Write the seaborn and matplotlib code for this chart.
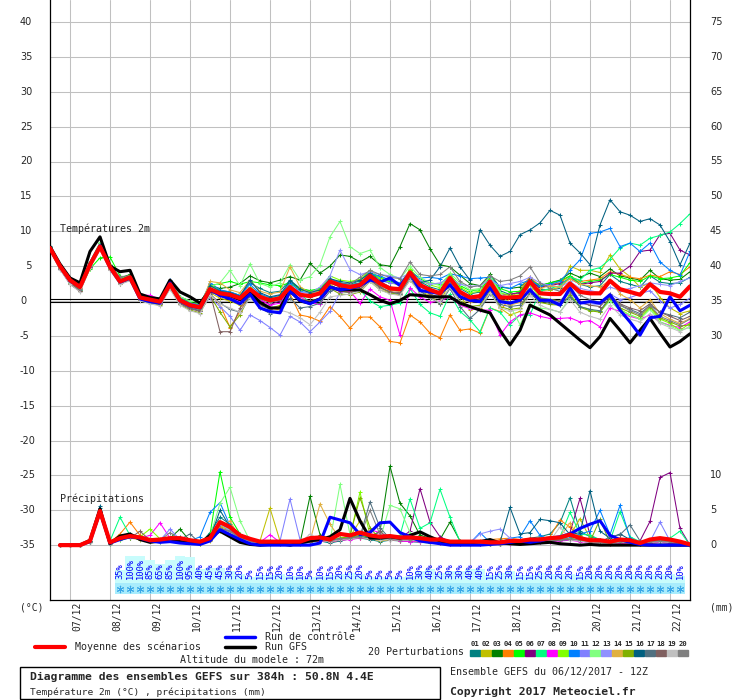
import matplotlib
matplotlib.use("Agg")
import matplotlib.pyplot as plt
from matplotlib import transforms
from matplotlib.lines import Line2D
from matplotlib.patches import Rectangle
import pandas as pd
import seaborn as sns

# Time axis (hours after 06/12/2017 12Z, 6h steps up to 384h)
HOURS = list(range(0, 385, 6))
DAY_TICKS = list(range(12, 373, 24))
DAY_LABELS = ["07/12", "08/12", "09/12", "10/12", "11/12", "12/12", "13/12", "14/12",
              "15/12", "16/12", "17/12", "18/12", "19/12", "20/12", "21/12", "22/12"]

# Temperature 2m (degC)
mean_t = [7.6, 5.0, 3.0, 2.0, 5.2, 7.8, 4.9, 2.8, 3.4, 0.5, 0.2, -0.1, 2.4, 0.1, -0.6, -0.9,
          1.7, 1.1, 0.9, 0.4, 1.7, 0.6, 0.1, 0.4, 2.0, 0.9, 0.7, 1.1, 2.8, 2.3, 2.0, 2.3,
          3.6, 2.5, 1.8, 1.7, 4.1, 2.3, 1.6, 1.1, 3.3, 1.3, 0.5, 0.7, 2.8, 0.5, 0.5, 0.6,
          2.8, 1.1, 1.0, 1.0, 2.5, 1.3, 1.1, 1.1, 2.9, 1.7, 1.3, 0.9, 2.4, 1.3, 1.1, 0.6, 2.1]
gfs_t = [7.8, 5.3, 3.3, 2.6, 7.1, 9.2, 5.0, 4.2, 4.4, 1.0, 0.5, 0.3, 3.0, 1.3, 0.6, -0.3,
         1.5, 1.0, 0.8, 0.2, 1.2, -0.2, -1.0, -1.0, 1.5, 0.0, -0.3, 0.3, 2.0, 1.6, 1.6, 1.6,
         0.9, 0.1, -0.4, 0.1, 0.9, 0.8, 0.6, 0.6, 0.6, -0.3, -0.8, -1.3, -1.7, -4.2, -6.3, -4.2,
         -0.6, -1.3, -2.0, -3.2, -4.4, -5.6, -6.7, -5.1, -2.5, -4.2, -6.0, -4.2, -2.5, -4.6, -6.6, -5.8, -4.7]
ctrl_t = [7.6, 5.0, 2.9, 2.0, 5.3, 7.9, 4.8, 2.7, 3.3, 0.3, -0.1, -0.3, 2.6, 0.0, -0.7, -1.0,
          1.6, 0.8, 0.3, -0.4, 1.0, -1.0, -1.5, -1.7, 1.4, 0.1, -0.4, 0.3, 2.0, 1.6, 1.8, 2.2,
          3.0, 2.7, 3.3, 2.2, 4.0, 1.5, 1.3, 1.1, 2.3, 0.6, 0.1, -0.1, 1.9, -0.1, -0.3, 0.1,
          1.6, 0.1, 0.1, -0.6, 1.9, -0.3, -0.1, -0.3, 0.9, -1.3, -3.0, -4.9, -2.4, -2.2, 0.6, -1.4, -0.6]

t01 = [7.9, 5.2, 3.1, 2.2, 5.4, 8.0, 5.1, 3.0, 3.6, 0.6, 0.1, -0.3, 2.7, 0.3, -0.5, -0.8,
       2.4, 1.5, 1.3, 0.8, 2.6, 1.8, 1.2, 1.4, 3.0, 1.8, 1.4, 1.6, 3.2, 2.6, 2.4, 2.9,
       4.2, 3.0, 2.6, 2.4, 4.4, 2.8, 2.0, 1.6, 3.6, 1.8, 1.0, 1.3, 3.4, 1.5, 0.9, 1.2,
       3.3, 1.7, 1.6, 1.8, 3.5, 2.4, 2.0, 2.2, 3.8, 2.8, 2.4, 2.0, 3.6, 2.7, 2.5, 2.6, 3.4]
t02 = [7.4, 4.8, 2.8, 1.7, 4.9, 7.5, 4.6, 2.6, 3.1, 0.3, -0.1, -0.4, 2.0, -0.2, -0.9, -1.3,
       1.2, 0.4, 0.0, -0.6, 1.0, -0.4, -1.1, -0.6, 1.5, 0.3, 0.0, 0.4, 2.6, 2.0, 1.8, 2.2,
       3.1, 1.9, 1.2, 0.8, 3.5, 1.4, 0.8, -0.4, 3.0, 0.8, -1.3, -1.0, 1.5, -1.0, -2.0, -1.5,
       2.6, 1.5, 1.6, 2.0, 5.0, 4.4, 4.4, 4.1, 6.6, 4.6, 3.5, 2.0, 2.6, 0.5, -1.0, -1.8, -1.4]
t03 = [7.8, 5.1, 3.2, 2.3, 5.6, 8.3, 5.2, 3.3, 3.8, 0.8, 0.4, 0.2, 2.8, 0.6, 0.0, -0.3,
       2.2, 1.8, 2.0, 2.5, 3.6, 2.9, 2.6, 3.0, 3.5, 3.0, 5.4, 4.0, 5.0, 6.6, 6.4, 5.6,
       6.4, 5.2, 5.0, 7.8, 11.1, 10.2, 7.5, 5.2, 4.9, 3.7, 2.5, 2.2, 3.8, 2.0, 1.8, 2.0,
       3.2, 2.2, 2.6, 3.0, 4.0, 3.4, 4.0, 3.5, 4.6, 3.6, 3.3, 3.0, 4.4, 3.2, 3.0, 3.1, 4.2]
t04 = [7.5, 4.9, 2.9, 1.9, 5.0, 7.6, 4.7, 2.7, 3.3, 0.4, 0.0, -0.2, 2.2, -0.1, -0.8, -1.0,
       1.0, -0.5, -3.8, -1.5, 1.0, -0.5, -1.0, -1.3, 1.0, -2.0, -2.3, -2.9, -0.8, -2.2, -3.9, -2.3,
       -2.3, -3.7, -5.8, -6.0, -2.0, -3.0, -4.6, -5.3, -2.0, -4.2, -4.0, -4.6, -1.0, -1.5, 0.5, 1.5,
       3.5, 2.0, 2.4, 2.6, 3.6, 2.8, 3.0, 3.2, 4.2, 3.8, 3.4, 3.2, 3.7, 3.5, 4.2, 3.8, 4.9]
t05 = [7.3, 4.7, 2.6, 1.6, 4.6, 6.2, 6.3, 3.6, 3.0, 0.9, 0.6, 0.3, 2.6, 0.5, -0.2, -0.5,
       2.2, 2.5, 2.8, 2.4, 2.8, 2.6, 2.3, 2.2, 2.6, 1.8, 1.5, 1.8, 2.9, 2.5, 2.3, 2.6,
       3.9, 3.4, 2.8, 2.5, 4.4, 3.1, 2.6, 2.4, 3.7, 2.2, 1.5, 1.6, 3.3, 1.8, 1.3, 1.4,
       3.0, 2.2, 2.6, 2.9, 3.6, 2.5, 2.8, 3.0, 3.8, 3.4, 3.0, 2.8, 3.6, 3.2, 3.3, 3.6, 5.5]
t06 = [7.2, 4.6, 2.4, 1.4, 4.9, 7.7, 4.8, 2.7, 3.2, 0.4, 0.1, -0.3, 2.3, 0.0, -0.7, -1.1,
       1.5, 0.7, 0.4, -0.2, 1.6, 0.1, -0.5, 0.0, 1.6, 0.8, 0.6, 1.0, 2.6, 2.0, 1.8, 2.0,
       3.2, 2.2, 1.6, 1.4, 3.8, 2.1, 1.4, 0.9, 2.9, 1.0, 0.3, 0.5, 2.5, 0.8, 1.0, 1.2,
       2.8, 2.0, 2.2, 2.5, 3.2, 2.4, 2.6, 2.8, 4.0, 4.0, 5.0, 7.1, 7.3, 9.5, 9.7, 7.3, 6.6]
t07 = [7.7, 5.0, 2.9, 1.9, 5.3, 7.9, 5.0, 2.9, 3.5, 0.6, 0.3, 0.0, 2.5, 0.2, -0.4, -0.7,
       1.9, 1.2, 0.9, 0.3, 1.8, 0.4, -0.2, 0.2, 2.3, 1.0, -0.2, -0.4, 2.4, 1.4, 1.2, 1.6,
       0.0, -0.8, -0.6, -0.3, 1.8, -0.5, -1.7, -2.2, 1.0, -1.5, -2.7, -4.4, -1.0, -1.6, -3.4, -2.0,
       -2.0, 1.4, 1.8, 2.2, 3.4, 3.0, 4.4, 4.8, 6.0, 7.6, 8.3, 8.0, 9.0, 9.4, 9.9, 11.1, 12.5]
t08 = [7.6, 5.0, 2.9, 1.8, 5.3, 8.2, 5.2, 2.9, 3.5, 0.9, 0.8, 0.3, 2.6, 0.3, -0.3, -0.6,
       1.8, 0.9, 0.5, 0.0, 1.3, 0.2, -0.6, -0.3, 1.7, 0.6, -0.2, -0.5, 2.0, 1.3, 1.4, -0.3,
       1.7, 0.6, 0.1, -4.9, 1.9, 0.6, -0.2, 0.0, 0.6, -0.6, -1.1, -1.3, -1.3, -4.9, -3.0, -2.0,
       -1.7, -2.2, -2.5, -2.5, -2.4, -3.0, -2.8, -3.7, -1.0, -1.5, -2.2, -2.6, -2.0, -3.0, -3.5, -3.8, -3.0]
t09 = [7.5, 4.9, 2.8, 1.8, 5.1, 7.8, 4.8, 2.6, 3.2, 0.4, 0.1, -0.2, 2.3, -0.1, -0.8, -1.2,
       2.5, 1.4, 1.0, 0.6, 2.0, 0.9, 0.4, 0.7, 2.5, 1.6, 1.3, 1.7, 3.6, 3.0, 2.8, 3.1,
       4.4, 3.3, 2.6, 2.3, 4.6, 3.0, 2.3, 1.9, 3.8, 2.0, 1.2, 1.4, 3.1, 1.2, 0.8, 0.9,
       2.3, 0.5, 0.2, 0.0, 1.0, -0.8, -1.2, -1.6, 0.4, -1.2, -2.0, -2.5, -1.0, -2.6, -3.2, -4.2, -3.2]
t10 = [7.7, 5.1, 3.0, 2.1, 5.3, 7.9, 5.0, 2.9, 3.5, 0.7, 0.3, 0.0, 3.0, 0.4, -0.3, -0.6,
       2.6, 1.6, 1.3, 0.8, 2.4, 1.0, 0.5, 0.8, 2.6, 1.4, 1.1, 1.5, 3.2, 2.6, 2.3, 2.6,
       3.9, 3.6, 3.0, 2.6, 4.2, 3.3, 3.4, 3.2, 3.9, 3.6, 3.2, 3.3, 3.4, 2.1, 1.8, 2.5,
       3.0, 2.1, 2.4, 2.8, 4.4, 5.9, 9.7, 9.9, 10.4, 7.8, 8.3, 7.1, 8.3, 5.6, 4.4, 3.7, 7.1]
t11 = [7.5, 4.8, 2.7, 1.7, 5.0, 7.7, 4.8, 2.7, 3.3, 0.4, 0.0, -0.4, 2.1, -0.3, -1.0, -1.4,
       0.5, -0.8, -2.2, -4.2, -2.0, -2.8, -3.8, -4.9, -2.2, -3.0, -4.4, -3.0, -1.5, 1.2, 1.8, 2.1,
       3.8, 2.9, 2.6, 2.4, 3.5, 2.0, 1.2, 0.8, 2.4, 0.8, 0.2, 0.0, 2.0, -0.2, -0.4, -0.1,
       1.8, 0.2, 0.0, -0.2, 1.2, -0.3, -0.6, -0.5, 1.0, 0.2, 0.5, 1.0, 1.5, 0.0, -1.0, -0.5, 0.4]
t12 = [7.8, 5.2, 3.2, 2.3, 5.6, 8.4, 5.3, 3.1, 3.7, 0.8, 0.5, 0.2, 2.9, 0.6, 0.0, -0.2,
       2.0, 2.6, 4.4, 2.2, 5.3, 2.5, 2.0, 2.6, 5.2, 3.0, 3.5, 5.2, 9.2, 11.4, 7.8, 6.8,
       7.3, 4.8, 3.8, 3.2, 5.0, 3.4, 2.6, 2.2, 4.0, 2.6, 1.6, 1.8, 3.6, 1.3, -0.6, -3.4,
       -0.5, -1.0, -1.2, -1.6, 0.5, -0.8, -1.4, -1.5, 0.0, -1.4, -2.0, -2.6, -1.2, -3.0, -3.6, -4.2, -3.8]
t13 = [7.6, 5.0, 2.9, 1.9, 5.2, 7.9, 5.0, 2.8, 3.4, 0.6, 0.2, -0.1, 2.6, 0.2, -0.5, -0.9,
       1.9, 1.0, 0.7, 0.2, 1.6, 0.5, 0.0, 0.4, 2.2, 1.3, 1.1, 2.0, 3.6, 7.3, 4.5, 3.8,
       4.2, 3.8, 3.6, 3.3, 4.0, 3.0, 2.4, 2.6, 3.3, 2.4, 2.1, 2.2, 3.0, 2.2, 2.5, 2.8,
       3.4, 2.6, 2.2, 2.0, 2.8, 1.8, 1.5, 1.2, 2.0, 1.5, 1.8, 2.2, 2.6, 2.4, 2.2, 2.8, 3.3]
t14 = [7.4, 4.8, 2.8, 1.8, 5.0, 7.6, 4.7, 2.8, 3.4, 0.5, 0.2, -0.1, 2.2, 0.0, -0.6, -0.9,
       2.8, 2.6, 1.6, 1.2, 3.0, 1.4, 1.0, 1.3, 4.9, 2.0, 1.2, 1.4, 2.4, 1.5, 1.2, 1.7,
       3.0, 2.2, 1.5, 1.4, 3.4, 2.2, 1.4, 0.8, 2.6, 0.6, -0.2, 0.0, 1.8, 0.0, -0.6, -0.2,
       1.6, 1.8, 2.2, 2.0, 3.2, 2.4, 2.2, 2.0, 3.0, 1.0, 0.2, -1.0, 0.2, -1.8, -2.6, -3.2, -2.5]
t15 = [7.3, 4.7, 2.5, 1.5, 4.8, 7.4, 4.6, 2.5, 3.0, 0.2, -0.3, -0.6, 1.8, -0.5, -1.3, -1.7,
       0.8, -1.6, -3.7, -2.0, 0.8, -0.6, -1.0, -0.8, 1.3, 0.2, 0.0, 0.3, 1.8, 1.0, 0.9, 1.3,
       2.8, 1.6, 1.1, 1.0, 3.0, 1.3, 0.5, -0.3, 2.0, 0.0, -0.8, -0.6, 1.4, -0.8, -1.2, -1.0,
       1.2, -0.2, -0.5, -0.6, 0.8, -0.9, -1.4, -1.6, 0.4, -1.0, -1.6, -2.2, -0.8, -2.4, -3.0, -3.6, -3.4]
t16 = [7.7, 5.1, 3.1, 2.2, 5.5, 8.1, 5.1, 3.0, 3.6, 0.6, 0.2, -0.1, 2.6, 0.3, -0.4, -0.8,
       2.2, 1.4, 1.2, 0.7, 3.0, 1.2, 0.6, 0.9, 2.9, 1.7, 1.2, 1.6, 3.2, 2.8, 2.6, 3.0,
       4.0, 2.8, 2.0, 1.8, 4.0, 2.6, 3.0, 4.9, 7.6, 4.9, 3.0, 10.2, 8.0, 6.4, 7.1, 9.5,
       10.2, 11.2, 13.0, 12.3, 8.3, 6.9, 5.2, 10.9, 14.5, 12.8, 12.3, 11.4, 11.8, 10.9, 8.5, 5.2, 8.3]
t17 = [7.4, 4.8, 2.7, 1.6, 4.9, 7.6, 4.7, 2.6, 3.1, 0.3, -0.1, -0.4, 2.0, -0.3, -1.0, -1.4,
       1.0, -0.3, -1.2, -1.6, 0.6, -1.0, -1.8, -1.4, 0.4, -1.0, -0.8, -0.3, 1.4, 1.8, 2.0, 2.4,
       3.3, 2.0, 1.3, 1.0, 3.2, 1.4, 0.5, -0.4, 1.8, -0.8, -2.5, -1.2, 1.0, -0.5, -0.8, -0.6,
       1.0, 0.0, -0.3, -0.6, 0.6, -0.8, -1.2, -1.4, 0.6, -0.6, -1.2, -1.8, -0.6, -1.6, -2.0, -2.4, -1.6]
t18 = [7.3, 4.6, 2.5, 1.4, 4.8, 7.5, 4.5, 2.4, 3.0, 0.2, -0.2, -0.5, 1.9, -0.4, -1.1, -1.5,
       1.2, -4.4, -4.4, -1.0, 0.8, -0.6, -1.2, -0.9, 1.2, 0.2, 0.0, 0.4, 2.0, 1.4, 1.2, 1.6,
       3.0, 1.9, 1.3, 1.2, 3.6, 1.7, 1.0, 0.5, 2.6, 0.6, 0.0, 0.2, 2.2, 0.2, -0.2, 0.0,
       1.6, 0.4, 0.2, 0.0, 1.4, -0.2, -0.6, -0.8, 0.8, -0.4, -1.0, -1.4, -0.4, -1.6, -2.2, -2.8, -2.2]
t19 = [7.2, 4.5, 2.4, 1.3, 4.7, 7.3, 4.4, 2.4, 2.9, 0.0, -0.4, -0.7, 1.7, -0.6, -1.4, -1.8,
       0.9, -0.4, -1.0, -1.6, 0.4, -0.9, -1.6, -1.3, -1.7, -2.4, -3.4, -1.6, 0.6, 0.8, 1.0, 1.4,
       2.8, 1.6, 1.0, 0.8, 3.0, 1.2, 0.4, -0.2, 2.0, -0.2, -1.0, -0.8, 1.2, -1.0, -1.4, -1.2,
       0.8, -0.6, -1.2, -1.6, 0.2, -1.6, -2.2, -2.6, -0.6, -2.0, -2.6, -3.0, -1.8, -3.2, -3.8, -4.4, -3.6]
t20 = [7.5, 4.9, 2.8, 1.7, 5.0, 7.7, 4.9, 3.5, 3.6, 0.6, 0.2, -0.1, 2.3, 0.0, -0.7, -1.0,
       1.6, 0.8, 0.6, 0.1, 1.5, 0.3, -0.2, 0.2, 1.8, 0.8, 0.6, 1.0, 2.6, 2.4, 2.4, 3.4,
       4.4, 3.8, 3.4, 3.2, 5.6, 3.8, 3.6, 3.8, 4.9, 2.8, 2.0, 2.2, 3.6, 2.8, 3.0, 3.6,
       4.9, 2.6, 1.8, 1.4, 2.4, 0.8, 0.2, -0.2, 1.0, -0.6, -1.4, -2.0, -0.6, -2.2, -2.8, -3.4, -2.6]

# 6h precipitation (mm), from +6h to +384h
mean_p = [0, 0, 0, 0.6, 4.9, 0.4, 1.0, 1.3, 1.1, 0.7, 0.8, 1.0, 1.0, 0.7, 0.5, 1.0,
          3.3, 2.6, 1.4, 0.9, 0.5, 0.5, 0.5, 0.5, 0.5, 1.0, 1.1, 0.8, 1.6, 1.4, 1.8, 1.4,
          1.2, 1.3, 1.1, 1.1, 1.0, 0.8, 0.8, 0.5, 0.5, 0.5, 0.5, 0.4, 0.4, 0.6, 0.6, 0.8,
          0.8, 1.0, 1.1, 1.5, 1.0, 0.7, 0.7, 0.5, 0.8, 0.7, 0.3, 0.8, 1.0, 0.8, 0.5, 0.1]
gfs_p = [0, 0, 0, 0.7, 5.2, 0.2, 1.3, 1.6, 0.8, 0.4, 0.6, 0.9, 0.5, 0.3, 0.2, 1.4,
         2.0, 1.2, 0.4, 0.1, 0.0, 0.1, 0.2, 0.0, 0.3, 0.6, 0.8, 1.2, 2.2, 6.7, 3.5, 1.0,
         1.0, 1.2, 1.0, 1.4, 1.9, 1.2, 0.6, 0.2, 0.2, 0.3, 0.5, 0.8, 0.3, 0.2, 0.1, 0.2,
         0.3, 0.4, 0.2, 0.1, 0.0, 0.1, 0.0, 0.0, 0.0, 0.0, 0.0, 0.0, 0.0, 0.0, 0.0, 0.0]
ctrl_p = [0, 0, 0, 0.5, 4.8, 0.3, 0.8, 1.2, 1.0, 0.6, 0.4, 0.5, 0.3, 0.2, 0.1, 0.6,
          2.2, 1.5, 0.8, 0.2, 0.0, 0.0, 0.0, 0.0, 0.0, 0.0, 0.3, 4.0, 3.6, 3.2, 1.5, 1.8,
          3.2, 3.3, 1.8, 1.2, 0.6, 0.4, 0.2, 0.0, 0.0, 0.0, 0.0, 0.1, 0.2, 0.4, 0.6, 0.4,
          0.6, 1.0, 1.2, 1.6, 2.4, 3.0, 3.5, 1.4, 0.8, 0.4, 0.1, 0.0, 0.0, 0.0, 0.0, 0.0]

p01 = [0, 0, 0, 0.4, 5.3, 0.2, 1.4, 1.6, 1.2, 0.6, 0.5, 0.8, 1.1, 0.4, 0.2, 1.8,
       4.0, 3.0, 1.2, 0.4, 0.2, 0.1, 0.2, 0.1, 0.2, 0.4, 0.6, 0.3, 0.6, 0.9, 1.0, 0.8,
       0.5, 0.7, 0.6, 0.5, 0.4, 0.3, 0.3, 0.2, 0.1, 0.2, 0.2, 0.1, 0.1, 0.3, 0.6, 1.0,
       1.2, 1.6, 3.2, 6.8, 2.0, 1.2, 0.8, 0.6, 0.9, 0.5, 0.2, 0.3, 0.4, 0.3, 0.2, 0.0]
p02 = [0, 0, 0, 0.6, 4.4, 0.4, 0.9, 1.0, 0.8, 1.0, 0.6, 0.7, 0.6, 0.4, 0.2, 0.6,
       2.0, 1.6, 0.8, 0.5, 0.6, 5.3, 0.6, 0.2, 0.2, 0.5, 0.6, 0.5, 1.0, 1.2, 3.5, 1.0,
       0.6, 0.8, 0.6, 0.7, 0.5, 0.4, 0.3, 0.2, 0.2, 0.2, 0.3, 0.2, 0.2, 0.3, 0.3, 0.5,
       0.5, 0.6, 0.9, 1.4, 3.8, 1.0, 0.4, 0.2, 0.3, 0.2, 0.1, 0.3, 0.4, 0.4, 0.2, 0.0]
p03 = [0, 0, 0, 0.5, 4.7, 0.3, 1.1, 1.3, 1.2, 0.9, 0.8, 1.0, 2.3, 0.6, 0.3, 0.7,
       3.0, 2.4, 1.4, 0.8, 0.4, 0.6, 0.5, 0.4, 0.3, 7.0, 1.5, 0.8, 0.8, 1.1, 1.3, 1.2,
       2.0, 11.3, 6.0, 4.2, 1.4, 1.0, 0.8, 3.3, 0.6, 0.4, 0.3, 0.2, 0.2, 0.3, 0.3, 0.5,
       0.6, 0.7, 0.8, 0.9, 0.7, 0.5, 0.6, 0.4, 0.5, 0.4, 0.3, 0.6, 0.8, 0.6, 0.3, 0.0]
p04 = [0, 0, 0, 0.4, 4.5, 0.4, 1.6, 3.3, 1.4, 0.9, 0.6, 0.8, 0.7, 0.5, 0.4, 0.9,
       2.6, 2.2, 1.0, 0.5, 0.3, 0.2, 0.2, 0.2, 0.3, 0.5, 0.7, 0.5, 0.7, 0.9, 1.0, 0.9,
       0.7, 0.8, 0.7, 0.6, 0.6, 0.5, 0.4, 0.3, 0.3, 0.4, 0.6, 0.8, 0.9, 1.0, 0.8, 0.9,
       1.0, 1.2, 3.6, 2.6, 1.0, 0.8, 0.5, 0.3, 0.4, 0.3, 0.2, 0.4, 0.5, 0.4, 0.2, 0.0]
p05 = [0, 0, 0, 0.5, 4.4, 0.2, 0.8, 1.0, 0.9, 0.7, 0.8, 1.0, 0.7, 0.4, 0.3, 1.5,
       10.5, 4.0, 1.6, 0.6, 0.3, 0.2, 0.3, 0.2, 0.3, 0.6, 0.9, 0.7, 1.0, 1.2, 1.4, 1.0,
       0.9, 1.0, 0.9, 0.8, 0.7, 0.6, 0.5, 0.3, 0.2, 0.2, 0.3, 0.2, 0.2, 0.4, 0.4, 0.5,
       0.6, 0.6, 0.8, 0.9, 0.8, 0.6, 0.4, 0.3, 0.5, 0.4, 0.2, 0.4, 0.6, 0.5, 0.4, 0.0]
p06 = [0, 0, 0, 0.6, 4.8, 0.3, 1.0, 1.1, 1.0, 0.8, 0.6, 0.8, 0.7, 0.5, 0.4, 0.7,
       2.2, 1.8, 0.9, 0.5, 0.3, 0.3, 0.4, 0.2, 0.3, 0.5, 0.7, 0.6, 0.8, 0.9, 1.1, 0.9,
       0.8, 0.9, 1.0, 2.0, 8.1, 3.3, 1.2, 0.5, 0.3, 0.3, 0.2, 0.2, 0.2, 0.3, 0.4, 0.5,
       0.5, 0.7, 0.9, 1.8, 6.7, 1.5, 0.6, 0.4, 0.5, 0.5, 0.6, 3.4, 9.7, 10.4, 2.4, 0.0]
p07 = [0, 0, 0, 0.5, 4.6, 0.6, 4.0, 1.4, 1.1, 0.8, 0.7, 0.9, 0.8, 0.5, 0.3, 0.9,
       3.2, 2.6, 1.2, 0.6, 0.3, 0.3, 0.3, 0.2, 0.3, 0.6, 0.8, 0.6, 0.9, 1.0, 1.2, 1.0,
       0.8, 1.0, 1.4, 6.6, 2.4, 3.2, 8.0, 4.0, 0.5, 0.3, 0.3, 0.2, 0.2, 0.4, 0.4, 0.6,
       0.6, 0.7, 1.2, 4.7, 1.6, 1.4, 0.8, 0.6, 4.8, 1.2, 0.5, 0.6, 0.8, 1.0, 2.0, 0.0]
p08 = [0, 0, 0, 0.4, 4.5, 0.3, 0.9, 1.2, 1.0, 1.4, 3.2, 1.0, 0.8, 0.5, 0.4, 0.8,
       2.4, 1.9, 1.0, 0.6, 0.4, 1.5, 0.4, 0.2, 0.3, 0.5, 0.6, 0.5, 0.7, 0.8, 1.0, 2.2,
       1.8, 0.9, 0.6, 0.5, 0.5, 0.4, 0.3, 0.2, 0.2, 0.2, 0.2, 0.1, 0.1, 0.2, 0.3, 0.4,
       0.4, 0.5, 0.6, 0.7, 0.5, 0.4, 0.3, 0.2, 0.3, 0.2, 0.1, 0.3, 0.4, 0.3, 0.2, 0.0]
p09 = [0, 0, 0, 0.5, 4.7, 0.3, 1.0, 1.3, 1.2, 2.3, 0.9, 0.9, 0.8, 0.6, 0.3, 0.9,
       2.8, 2.2, 1.1, 0.6, 0.3, 0.3, 0.3, 0.2, 0.3, 0.6, 0.9, 0.6, 1.0, 1.2, 7.6, 1.4,
       0.9, 1.0, 0.9, 0.9, 0.8, 0.6, 0.6, 0.3, 0.3, 0.3, 0.3, 0.2, 0.2, 0.4, 0.4, 0.6,
       0.6, 0.7, 0.8, 0.9, 0.7, 0.5, 0.4, 0.3, 0.5, 0.4, 0.2, 0.5, 0.6, 0.5, 0.3, 0.0]
p10 = [0, 0, 0, 0.5, 4.9, 0.4, 1.1, 1.2, 1.0, 0.8, 0.7, 0.9, 0.9, 0.6, 1.2, 4.7,
       6.1, 2.8, 1.3, 0.7, 0.4, 0.3, 0.3, 0.2, 0.3, 0.6, 0.8, 0.6, 0.9, 1.0, 1.2, 1.0,
       0.8, 0.9, 0.8, 0.8, 0.7, 0.6, 0.5, 0.3, 0.3, 0.3, 1.8, 0.4, 0.4, 1.0, 1.2, 3.5,
       1.4, 0.8, 1.0, 1.2, 1.6, 2.0, 5.0, 1.5, 5.7, 1.0, 0.4, 0.5, 0.6, 0.5, 0.3, 0.0]
p11 = [0, 0, 0, 0.5, 4.5, 0.3, 1.0, 1.1, 1.0, 0.8, 0.7, 2.3, 0.8, 0.5, 0.3, 0.8,
       2.4, 2.0, 1.0, 0.6, 0.4, 0.5, 0.6, 6.6, 0.8, 0.5, 0.7, 0.6, 0.9, 1.0, 1.1, 1.0,
       0.8, 0.8, 0.7, 0.7, 0.6, 0.5, 0.4, 0.3, 0.3, 0.4, 0.4, 0.5, 0.4, 0.4, 0.4, 0.5,
       0.5, 0.6, 0.7, 0.8, 0.7, 0.5, 0.4, 0.3, 0.4, 0.4, 0.2, 0.5, 3.3, 0.6, 0.3, 0.0]
p12 = [0, 0, 0, 0.6, 4.6, 0.3, 1.2, 1.3, 1.1, 0.9, 0.8, 1.0, 0.9, 0.5, 0.4, 1.2,
       6.0, 8.3, 3.5, 0.6, 0.3, 0.3, 0.3, 0.2, 0.3, 0.6, 0.8, 0.6, 8.7, 1.5, 1.2, 1.0,
       0.8, 5.7, 5.2, 1.8, 0.7, 0.6, 0.5, 0.3, 0.3, 0.3, 0.3, 0.2, 0.2, 0.4, 0.4, 0.6,
       0.6, 0.7, 0.8, 0.9, 0.7, 0.5, 0.4, 0.3, 0.5, 0.4, 0.2, 0.5, 0.6, 0.5, 0.3, 0.0]
p13 = [0, 0, 0, 0.5, 4.5, 0.3, 1.0, 1.2, 0.9, 0.8, 0.7, 0.9, 0.8, 0.5, 0.3, 0.8,
       3.0, 2.1, 1.0, 0.6, 0.3, 0.3, 0.3, 0.2, 0.3, 0.6, 0.8, 0.6, 0.9, 1.0, 1.2, 1.0,
       0.8, 0.9, 0.8, 0.8, 0.7, 0.6, 0.5, 0.3, 0.3, 0.3, 1.6, 2.0, 2.3, 1.0, 0.4, 0.6,
       0.6, 0.7, 0.8, 0.9, 0.7, 0.5, 0.4, 0.3, 0.5, 0.4, 0.2, 0.5, 0.6, 0.5, 0.3, 0.0]
p14 = [0, 0, 0, 0.5, 4.6, 0.3, 1.0, 1.4, 1.0, 0.8, 0.7, 0.9, 0.8, 0.5, 0.3, 0.8,
       2.5, 3.5, 1.0, 0.6, 0.3, 0.3, 0.3, 0.2, 0.3, 0.6, 5.9, 3.0, 0.9, 1.0, 1.2, 1.0,
       0.8, 0.9, 0.8, 0.8, 0.7, 0.6, 0.5, 0.3, 0.3, 0.3, 0.3, 0.2, 0.2, 0.4, 0.4, 0.6,
       0.6, 0.7, 1.2, 3.2, 0.7, 0.5, 0.4, 0.3, 0.5, 0.4, 0.2, 0.5, 0.6, 0.5, 0.3, 0.0]
p15 = [0, 0, 0, 0.5, 4.4, 0.3, 0.9, 1.1, 0.9, 0.8, 0.7, 0.8, 0.7, 0.5, 0.3, 0.7,
       2.2, 1.8, 0.9, 0.5, 0.3, 0.3, 0.3, 0.2, 0.3, 0.5, 0.7, 0.6, 0.9, 1.4, 6.8, 2.5,
       0.8, 0.9, 0.8, 0.8, 0.7, 0.6, 0.5, 0.3, 0.3, 0.3, 0.3, 0.2, 0.2, 0.4, 0.4, 0.6,
       0.6, 0.7, 0.8, 0.9, 1.4, 0.5, 3.7, 0.3, 0.5, 0.4, 0.2, 0.5, 0.6, 0.5, 0.3, 0.0]
p16 = [0, 0, 0, 0.6, 5.6, 0.4, 1.2, 1.4, 1.1, 0.8, 0.7, 1.0, 0.9, 0.6, 0.4, 1.0,
       5.0, 2.6, 1.2, 0.6, 0.3, 0.3, 0.3, 0.2, 0.3, 0.6, 0.8, 0.6, 0.9, 1.0, 1.2, 1.0,
       0.8, 0.9, 0.8, 0.8, 0.7, 0.6, 0.5, 0.3, 0.3, 0.3, 0.3, 0.2, 0.4, 5.4, 1.6, 1.8,
       3.7, 3.5, 3.2, 1.5, 1.8, 7.8, 2.0, 1.0, 1.6, 0.8, 0.4, 0.5, 0.6, 0.5, 0.3, 0.0]
p17 = [0, 0, 0, 0.5, 4.5, 0.3, 1.0, 1.2, 1.0, 0.8, 0.7, 0.9, 0.8, 1.6, 0.3, 0.8,
       2.4, 2.0, 1.0, 0.6, 0.3, 0.3, 0.3, 0.2, 0.3, 0.6, 0.8, 0.6, 0.9, 1.0, 1.2, 6.2,
       2.5, 0.9, 0.8, 0.8, 0.7, 0.6, 0.5, 0.3, 0.3, 0.3, 0.3, 0.2, 0.2, 0.4, 0.4, 0.6,
       0.6, 0.7, 0.8, 0.9, 0.7, 0.5, 0.4, 1.2, 1.5, 2.9, 0.6, 0.5, 0.6, 0.5, 0.3, 0.0]
p18 = [0, 0, 0, 0.4, 4.3, 0.2, 0.9, 1.0, 2.0, 0.7, 0.6, 0.8, 0.7, 0.5, 0.3, 0.7,
       2.1, 1.8, 0.9, 0.5, 0.3, 0.3, 0.3, 0.2, 0.3, 0.5, 0.7, 0.5, 0.8, 0.9, 1.1, 0.9,
       2.0, 0.8, 0.7, 0.7, 0.6, 0.5, 0.4, 0.3, 0.3, 0.3, 0.3, 0.2, 0.2, 0.3, 0.3, 0.5,
       0.5, 0.6, 0.7, 0.8, 0.6, 0.4, 0.3, 0.2, 0.4, 0.3, 0.2, 0.4, 0.5, 0.4, 0.2, 0.0]
p19 = [0, 0, 0, 0.4, 4.4, 0.2, 0.9, 1.1, 0.9, 0.7, 0.6, 0.8, 0.7, 0.4, 0.3, 0.7,
       2.2, 1.8, 0.9, 0.5, 0.3, 0.3, 0.3, 0.2, 0.3, 1.6, 0.7, 0.5, 0.8, 0.9, 1.1, 0.9,
       0.7, 0.8, 0.7, 0.7, 0.6, 0.5, 0.4, 0.3, 0.3, 0.3, 0.3, 0.2, 0.2, 0.3, 0.3, 0.5,
       0.5, 0.6, 2.6, 0.8, 0.6, 0.4, 0.3, 0.2, 0.4, 0.3, 0.2, 0.4, 0.5, 0.4, 0.2, 0.0]
p20 = [0, 0, 0, 0.5, 4.6, 0.3, 1.0, 1.3, 1.0, 0.8, 0.7, 1.8, 0.8, 0.5, 0.3, 0.8,
       2.4, 2.0, 1.0, 0.6, 0.3, 0.3, 0.3, 0.2, 0.3, 0.6, 0.8, 0.6, 0.9, 1.0, 1.2, 5.0,
       1.5, 0.9, 0.8, 0.8, 0.7, 0.6, 0.5, 0.3, 0.3, 0.3, 0.3, 0.2, 0.2, 0.4, 0.4, 0.6,
       0.6, 0.7, 0.8, 0.9, 0.7, 0.5, 0.4, 0.3, 0.5, 0.4, 0.2, 0.5, 0.6, 0.5, 0.3, 0.0]

# Probability of precipitation per 6h step (from +42h to +378h)
rain_pct = [35, 100, 100, 85, 65, 85, 100, 95, 40, 45, 45, 30, 20, 5, 15, 15, 20, 10, 10, 5,
            10, 15, 20, 25, 20, 5, 5, 5, 5, 10, 30, 40, 25, 30, 30, 40, 40, 15, 25, 30,
            15, 15, 25, 20, 20, 20, 15, 20, 20, 20, 20, 20, 20, 20, 20, 20, 10]

MEMBER_IDS = ["%02d" % k for k in range(1, 21)]
MEMBER_COLORS = ["#008080", "#c0c000", "#008000", "#ff8000", "#00ff00", "#800080", "#00ff80",
                 "#ff00ff", "#80ff00", "#0080ff", "#8080ff", "#80ff80", "#9090ff", "#e0b040",
                 "#80b000", "#006080", "#507080", "#806060", "#c0c0c0", "#808080"]
temp_members = [t01, t02, t03, t04, t05, t06, t07, t08, t09, t10,
                t11, t12, t13, t14, t15, t16, t17, t18, t19, t20]
prec_members = [p01, p02, p03, p04, p05, p06, p07, p08, p09, p10,
                p11, p12, p13, p14, p15, p16, p17, p18, p19, p20]

PRECIP_BASE = -35  # precipitation 0 mm sits on the -35 line
W, H = 740, 700


def fx(px):
    return px / W


def fy(py):
    return 1 - py / H


def row_val(py):
    """pixel row of the reference -> temperature units on the left axis"""
    return (301 - py) / 6.975


sns.set_style("white")
plt.rcParams["font.family"] = ["DejaVu Sans Mono", "DejaVu Sans"]
MONO = "DejaVu Sans Mono"

fig = plt.figure(figsize=(W / 100, H / 100), dpi=100)
ax = fig.add_axes([fx(50), fy(600), 640 / W, 600 / H])
ax.set_xlim(0, 384)
ax.set_ylim(row_val(600), row_val(0))

# long-form tables for the 20 perturbations
t_rows, p_rows = [], []
for mid, tv, pv in zip(MEMBER_IDS, temp_members, prec_members):
    assert len(tv) == len(HOURS) and len(pv) == len(HOURS) - 1, mid
    t_rows += [(mid, h, v) for h, v in zip(HOURS, tv)]
    p_rows += [(mid, h, v + PRECIP_BASE) for h, v in zip(HOURS[1:], pv)]
df_t = pd.DataFrame(t_rows, columns=["member", "hour", "value"])
df_p = pd.DataFrame(p_rows, columns=["member", "hour", "value"])
palette = dict(zip(MEMBER_IDS, MEMBER_COLORS))

# precipitation probability bars and snow symbols
lab_hours = HOURS[7:7 + len(rain_pct)]
ax.bar(lab_hours, [2.3 + 0.031 * p for p in rain_pct], width=6, bottom=row_val(594),
       color="#c8fcfc", linewidth=0, zorder=1)
ax.bar(lab_hours, [row_val(583) - row_val(594)] * len(lab_hours), width=6,
       bottom=row_val(594), color="#a8ecfc", linewidth=0, zorder=1.1)
ax.scatter(lab_hours, [row_val(588.5)] * len(lab_hours), marker="o", s=16,
           color="#d8f6ff", edgecolors="#60c8f0", linewidths=0.5, zorder=1.2)
ax.scatter(lab_hours, [row_val(588.5)] * len(lab_hours), marker=(6, 2, 0), s=24,
           color="#3aa8e8", linewidths=0.6, zorder=1.3)
for h, p in zip(lab_hours, rain_pct):
    ax.text(h, row_val(579), "%d%%" % p, rotation=90, ha="center", va="bottom",
            fontsize=6.3, color="#0000ff", family=MONO, zorder=1.4)

# 0 degC double line
ax.axhline(0.22, color="black", lw=0.8, zorder=1.5)
ax.axhline(-0.12, color="black", lw=0.8, zorder=1.5)

for df in (df_t, df_p):
    sns.lineplot(data=df, x="hour", y="value", hue="member", palette=palette,
                 estimator=None, sort=False, legend=False, linewidth=0.75,
                 marker="+", markersize=3.5, ax=ax, zorder=2)
for ln in ax.lines:
    ln.set_markeredgecolor(ln.get_color())

sns.lineplot(x=HOURS, y=gfs_t, color="black", linewidth=2.2, ax=ax, zorder=3)
sns.lineplot(x=HOURS[1:], y=[v + PRECIP_BASE for v in gfs_p], color="black",
             linewidth=2.2, ax=ax, zorder=3)
sns.lineplot(x=HOURS, y=ctrl_t, color="#0000ff", linewidth=2.2, ax=ax, zorder=3.1)
sns.lineplot(x=HOURS[1:], y=[v + PRECIP_BASE for v in ctrl_p], color="#0000ff",
             linewidth=2.2, ax=ax, zorder=3.1)
sns.lineplot(x=HOURS, y=mean_t, color="#ff0000", linewidth=3.0, ax=ax, zorder=3.2)
sns.lineplot(x=HOURS[1:], y=[v + PRECIP_BASE for v in mean_p], color="#ff0000",
             linewidth=3.0, ax=ax, zorder=3.2)

# grid, spines, ticks
ax.set_xticks(DAY_TICKS)
ax.set_yticks(list(range(-35, 41, 5)))
ax.grid(True, color="#c0c0c0", linewidth=0.75)
ax.set_axisbelow(True)
ax.set_xlabel("")
ax.set_ylabel("")
ax.spines["top"].set_visible(False)
for side in ("left", "right", "bottom"):
    ax.spines[side].set_color("black")
    ax.spines[side].set_linewidth(0.9)
ax.tick_params(axis="both", length=0)
ax.tick_params(axis="y", labelleft=False)
ax.set_xticklabels(DAY_LABELS, rotation=90, fontsize=7, family=MONO)
ax.tick_params(axis="x", pad=1.5)
shift = transforms.ScaledTranslation(7 / 100, 0, fig.dpi_scale_trans)
for lbl in ax.get_xticklabels():
    lbl.set_transform(lbl.get_transform() + shift)

yl = transforms.blended_transform_factory(fig.transFigure, ax.transData)
for v in range(-35, 41, 5):
    txt = "\u20075" if v == 5 else str(v)
    ax.text(fx(20), v, txt, transform=yl, ha="left", va="center",
            fontsize=7, family="DejaVu Sans")
    if v >= -5:
        right_txt = str(v + 35)
    elif v <= -25:
        right_txt = str(v - PRECIP_BASE)
    else:
        continue
    ax.text(fx(710), v, right_txt, transform=yl, ha="left", va="center",
            fontsize=7, family="DejaVu Sans")

fig.text(fx(60), fy(229), "Températures 2m", fontsize=7.2, va="center", family=MONO)
fig.text(fx(60), fy(499), "Précipitations", fontsize=7.2, va="center", family=MONO)
fig.text(fx(20), fy(607), "(°C)", fontsize=7, va="center", family=MONO)
fig.text(fx(710), fy(607), "(mm)", fontsize=7, va="center", family=MONO)

# legend block
fig.add_artist(Line2D([fx(35), fx(65)], [fy(647)] * 2, color="#ff0000", lw=3,
                      transform=fig.transFigure))
fig.text(fx(75), fy(647), "Moyenne des scénarios", fontsize=7.2, va="center", family=MONO)
fig.add_artist(Line2D([fx(225), fx(255)], [fy(637)] * 2, color="#0000ff", lw=2.5,
                      transform=fig.transFigure))
fig.text(fx(265), fy(637), "Run de contrôle", fontsize=7.2, va="center", family=MONO)
fig.add_artist(Line2D([fx(225), fx(255)], [fy(647)] * 2, color="black", lw=2.5,
                      transform=fig.transFigure))
fig.text(fx(265), fy(647), "Run GFS", fontsize=7.2, va="center", family=MONO)
fig.text(fx(180), fy(660), "Altitude du modele : 72m", fontsize=7.2, va="center", family=MONO)

fig.add_artist(Rectangle((fx(20), fy(699)), fx(440) - fx(20), fy(667) - fy(699),
                         transform=fig.transFigure, fill=False, edgecolor="black", lw=1))
fig.text(fx(30), fy(677), "Diagramme des ensembles GEFS sur 384h : 50.8N 4.4E",
         fontsize=8.2, weight="bold", va="center", family=MONO)
fig.text(fx(30), fy(692), "Température 2m (°C) , précipitations (mm)",
         fontsize=6.8, va="center", family=MONO)

fig.text(fx(368), fy(652), "20 Perturbations", fontsize=7.2, va="center", family=MONO)
for k, (mid, col) in enumerate(zip(MEMBER_IDS, MEMBER_COLORS)):
    x0 = 470 + 10.95 * k
    fig.add_artist(Rectangle((fx(x0), fy(656)), 10 / W, 6 / H, color=col,
                             transform=fig.transFigure))
    fig.text(fx(x0 + 5), fy(644), mid, fontsize=5.2, weight="bold", ha="center",
             va="center", family=MONO)

fig.text(fx(450), fy(672), "Ensemble GEFS du 06/12/2017 - 12Z", fontsize=7.2,
         va="center", family=MONO)
fig.text(fx(450), fy(692), "Copyright 2017 Meteociel.fr", fontsize=8.2, weight="bold",
         va="center", family=MONO)

fig.savefig("out.png", dpi=100)
